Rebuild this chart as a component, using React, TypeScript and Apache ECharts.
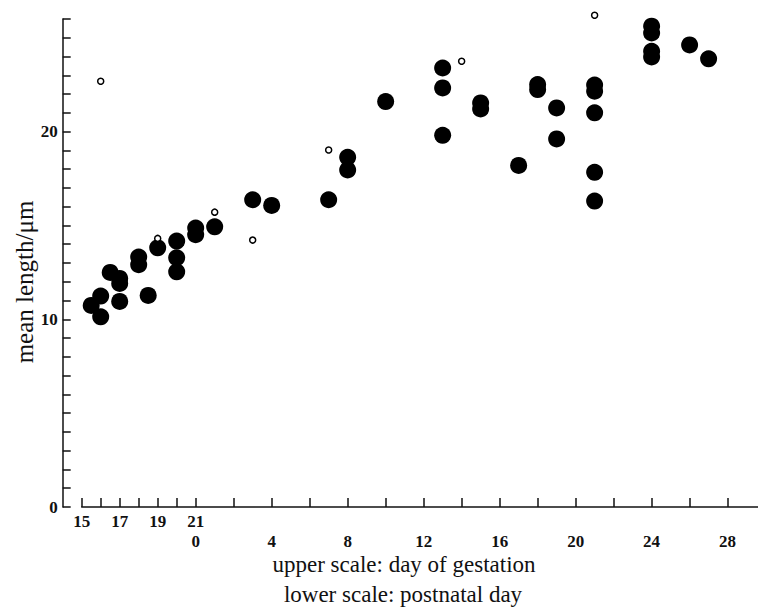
import React, { useEffect, useRef } from "react";
import * as echarts from "echarts";

// Day axis is expressed in postnatal days: birth (day 21 of gestation) = 0.
const GESTATION_OFFSET = 21;

// Gestation tick labels (upper scale) and postnatal tick labels (lower scale)
const gestationLabels = [15, 17, 19, 21];
const postnatalLabels = [0, 4, 8, 12, 16, 20, 24, 28];
const tickDays = [-6, -5, -4, -3, -2, -1, 0, 2, 4, 6, 8, 10, 12, 14, 16, 18, 20, 22, 24, 26, 28];
const yTickLabels = [0, 10, 20];

// Filled circles: [day, mean length in µm]
const filledDays = [
  -5.5, -5, -5, -4.5, -4, -4, -4, -3, -3, -2.5, -2, -1, -1, -1, 0, 0, 1, 3, 4, 7, 8, 8, 10,
  13, 13, 13, 15, 15, 17, 18, 18, 19, 19, 21, 21, 21, 21, 21, 24, 24, 24, 24, 26, 27,
];
const filledLengths = [
  10.74, 11.24, 10.13, 12.5, 12.18, 11.91, 10.95, 13.32, 12.91, 11.27, 13.81, 14.17, 13.28,
  12.53, 14.86, 14.51, 14.93, 16.37, 16.07, 16.37, 18.63, 17.96, 21.6, 23.39, 22.33, 19.8,
  21.53, 21.21, 18.2, 22.51, 22.24, 21.26, 19.61, 22.48, 22.15, 21.0, 17.83, 16.3, 25.62,
  25.26, 24.28, 23.98, 24.62, 23.88,
];

// Open circles: [day, mean length in µm]
const openDays = [-5, -2, 1, 3, 7, 14, 21];
const openLengths = [22.68, 14.31, 15.71, 14.22, 19.02, 23.75, 26.2];

const SERIF = "'Liberation Serif', 'DejaVu Serif', serif";
const INK = "#111";

export default function App() {
  const ref = useRef<HTMLDivElement>(null);

  useEffect(() => {
    if (!ref.current) return;
    const chart = echarts.init(ref.current, null, { renderer: "svg" });

    const filled = filledDays.map((d, i) => [d, filledLengths[i]]);
    const open = openDays.map((d, i) => [d, openLengths[i]]);

    const tickFont = {
      color: INK,
      fontFamily: SERIF,
      fontSize: 17,
      fontWeight: "bold" as const,
    };

    chart.setOption({
      animation: false,
      backgroundColor: "#ffffff",
      grid: {
        left: 81.7,
        right: 0,
        top: 19,
        bottom: 104,
        containLabel: false,
        outerBoundsMode: "none",
      },
      xAxis: [
        {
          type: "value",
          min: -6,
          max: 29.6,
          position: "bottom",
          splitLine: { show: false },
          axisLine: { show: true, onZero: false, lineStyle: { color: INK, width: 1.5 } },
          axisTick: {
            show: true,
            inside: true,
            length: 9,
            customValues: tickDays,
            lineStyle: { color: INK, width: 1.5 },
          },
          axisLabel: {
            show: true,
            margin: 6,
            customValues: gestationLabels.map((g) => g - GESTATION_OFFSET),
            formatter: (v: number) => String(Math.round(v + GESTATION_OFFSET)),
            ...tickFont,
          },
        },
        {
          type: "value",
          min: -6,
          max: 29.6,
          position: "bottom",
          splitLine: { show: false },
          axisLine: { show: false },
          axisTick: { show: false },
          axisLabel: {
            show: true,
            margin: 26,
            customValues: postnatalLabels,
            formatter: (v: number) => String(Math.round(v)),
            ...tickFont,
          },
        },
      ],
      yAxis: {
        type: "value",
        min: 0,
        max: 26,
        interval: 1,
        offset: 19,
        splitLine: { show: false },
        axisLine: { show: true, onZero: false, lineStyle: { color: INK, width: 1.5 } },
        axisTick: { show: true, inside: true, length: 8, lineStyle: { color: INK, width: 1.5 } },
        axisLabel: {
          margin: 5,
          customValues: yTickLabels,
          ...tickFont,
        },
      },
      graphic: [
        {
          type: "text",
          x: 404,
          y: 564,
          style: {
            text: "upper scale: day of gestation",
            fill: INK,
            font: `23px ${SERIF}`,
            textAlign: "center",
            textVerticalAlign: "middle",
          },
        },
        {
          type: "text",
          x: 403,
          y: 594,
          style: {
            text: "lower scale: postnatal day",
            fill: INK,
            font: `23px ${SERIF}`,
            textAlign: "center",
            textVerticalAlign: "middle",
          },
        },
        {
          type: "text",
          x: 24.5,
          y: 282,
          rotation: Math.PI / 2,
          style: {
            text: "mean length/μm",
            fill: INK,
            font: `25px ${SERIF}`,
            textAlign: "center",
            textVerticalAlign: "middle",
          },
        },
      ],
      series: [
        {
          type: "scatter",
          name: "filled",
          xAxisIndex: 0,
          data: filled,
          symbol: "circle",
          symbolSize: 17,
          clip: false,
          itemStyle: { color: "#000", opacity: 1 },
        },
        {
          type: "scatter",
          name: "open",
          xAxisIndex: 0,
          data: open,
          symbol: "circle",
          symbolSize: 6,
          clip: false,
          itemStyle: { color: "#fff", borderColor: "#000", borderWidth: 1.5, opacity: 1 },
        },
      ],
    });

    return () => chart.dispose();
  }, []);

  return <div ref={ref} style={{ width: 758, height: 611, position: "absolute", left: 0, top: 0 }} />;
}
